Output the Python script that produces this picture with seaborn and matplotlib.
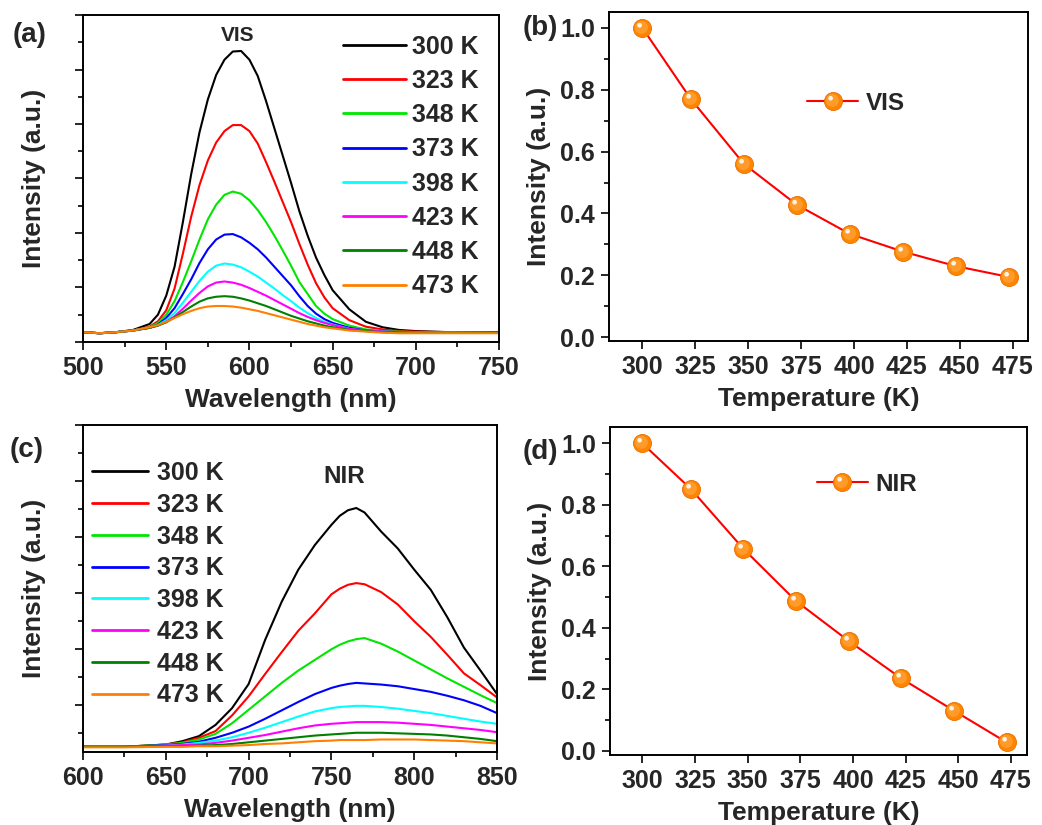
import numpy as np
import pandas as pd
import seaborn as sns
import matplotlib.pyplot as plt
from matplotlib.path import Path
from matplotlib.lines import Line2D
from matplotlib.ticker import MultipleLocator
from matplotlib.legend_handler import HandlerTuple

sns.set_theme(style="ticks")
plt.rcParams['font.family'] = ['Liberation Sans', 'DejaVu Sans']
plt.rcParams['font.weight'] = 'bold'
plt.rcParams['axes.labelweight'] = 'bold'
plt.rcParams['axes.linewidth'] = 1.4
plt.rcParams['axes.edgecolor'] = 'black'

temps = [300, 323, 348, 373, 398, 423, 448, 473]
temp_labels = [f"{t} K" for t in temps]
colors = ['#000000', '#FF0000', '#00E600', '#0000FF', '#00FFFF', '#FF00FF', '#008000', '#FF8000']

# (a) VIS emission spectra (arbitrary units)
vis_wl = [500, 510, 520, 530, 540, 545, 550, 555, 560, 565, 570, 575, 580, 585, 590, 595, 600,
          605, 610, 615, 620, 625, 630, 635, 640, 645, 650, 660, 670, 680, 690, 700, 720, 750]
vis_300 = [0.18, 0.16, 0.18, 0.22, 0.33, 0.50, 0.85, 1.38, 2.20, 3.08, 3.85, 4.45, 4.90, 5.18, 5.33, 5.34, 5.18,
           4.88, 4.42, 3.92, 3.42, 2.92, 2.40, 1.95, 1.55, 1.23, 0.95, 0.60, 0.37, 0.27, 0.22, 0.20, 0.18, 0.18]
vis_323 = [0.18, 0.16, 0.18, 0.21, 0.28, 0.38, 0.58, 0.98, 1.62, 2.30, 2.88, 3.33, 3.66, 3.87, 3.98, 3.98, 3.87,
           3.64, 3.30, 2.94, 2.57, 2.20, 1.80, 1.42, 1.08, 0.82, 0.62, 0.40, 0.28, 0.23, 0.20, 0.19, 0.18, 0.18]
vis_348 = [0.18, 0.16, 0.18, 0.21, 0.27, 0.35, 0.50, 0.75, 1.10, 1.48, 1.88, 2.25, 2.52, 2.70, 2.76, 2.72, 2.60,
           2.42, 2.20, 1.95, 1.68, 1.40, 1.10, 0.88, 0.66, 0.52, 0.42, 0.30, 0.23, 0.20, 0.19, 0.18, 0.18, 0.18]
vis_373 = [0.18, 0.16, 0.18, 0.21, 0.26, 0.32, 0.44, 0.62, 0.88, 1.15, 1.45, 1.70, 1.88, 1.97, 1.98, 1.92, 1.82,
           1.70, 1.55, 1.38, 1.21, 1.04, 0.84, 0.66, 0.52, 0.42, 0.35, 0.26, 0.21, 0.19, 0.18, 0.18, 0.18, 0.18]
vis_398 = [0.18, 0.16, 0.18, 0.21, 0.26, 0.31, 0.40, 0.53, 0.72, 0.92, 1.12, 1.29, 1.40, 1.44, 1.42, 1.37, 1.29,
           1.20, 1.09, 0.98, 0.86, 0.75, 0.63, 0.53, 0.44, 0.37, 0.32, 0.24, 0.20, 0.19, 0.18, 0.18, 0.18, 0.17]
vis_423 = [0.18, 0.16, 0.18, 0.21, 0.26, 0.30, 0.37, 0.47, 0.61, 0.76, 0.90, 1.02, 1.09, 1.11, 1.09, 1.05, 0.99,
           0.92, 0.85, 0.77, 0.69, 0.61, 0.53, 0.46, 0.40, 0.35, 0.31, 0.24, 0.21, 0.19, 0.18, 0.17, 0.17, 0.17]
vis_448 = [0.18, 0.16, 0.18, 0.21, 0.26, 0.30, 0.36, 0.45, 0.55, 0.65, 0.74, 0.80, 0.83, 0.84, 0.83, 0.80, 0.76,
           0.71, 0.66, 0.60, 0.54, 0.48, 0.43, 0.38, 0.34, 0.30, 0.27, 0.22, 0.20, 0.18, 0.17, 0.17, 0.17, 0.17]
vis_473 = [0.18, 0.16, 0.18, 0.21, 0.27, 0.31, 0.37, 0.44, 0.51, 0.57, 0.62, 0.65, 0.66, 0.66, 0.65, 0.63, 0.60,
           0.57, 0.53, 0.49, 0.45, 0.41, 0.37, 0.33, 0.30, 0.27, 0.25, 0.21, 0.19, 0.17, 0.16, 0.16, 0.16, 0.16]

# (c) NIR emission spectra
nir_wl = [600, 625, 650, 660, 670, 680, 690, 700, 710, 720, 730, 740, 750, 755, 760, 765, 770,
          780, 790, 800, 810, 820, 830, 840, 850]
nir_300 = [-0.74, -0.74, -0.70, -0.64, -0.55, -0.35, -0.05, 0.38, 1.17, 1.85, 2.42, 2.86, 3.22, 3.38, 3.48, 3.52,
           3.44, 3.10, 2.80, 2.42, 2.06, 1.57, 1.03, 0.62, 0.20]
nir_323 = [-0.74, -0.74, -0.70, -0.66, -0.58, -0.46, -0.18, 0.16, 0.56, 0.95, 1.33, 1.64, 1.98, 2.08, 2.15, 2.18,
           2.16, 2.02, 1.80, 1.50, 1.22, 0.90, 0.57, 0.36, 0.14]
nir_348 = [-0.74, -0.74, -0.70, -0.67, -0.61, -0.51, -0.32, -0.08, 0.16, 0.40, 0.62, 0.81, 1.00, 1.08, 1.14, 1.18,
           1.20, 1.10, 0.96, 0.80, 0.64, 0.48, 0.33, 0.18, 0.04]
nir_373 = [-0.74, -0.74, -0.71, -0.69, -0.65, -0.58, -0.49, -0.38, -0.24, -0.09, 0.06, 0.20, 0.31, 0.35, 0.38, 0.40,
           0.39, 0.37, 0.34, 0.29, 0.24, 0.17, 0.09, -0.01, -0.14]
nir_398 = [-0.74, -0.74, -0.72, -0.70, -0.67, -0.63, -0.57, -0.49, -0.40, -0.30, -0.20, -0.11, -0.05, -0.03, -0.02,
           -0.01, -0.01, -0.03, -0.06, -0.10, -0.14, -0.19, -0.24, -0.29, -0.33]
nir_423 = [-0.74, -0.74, -0.72, -0.71, -0.70, -0.67, -0.63, -0.58, -0.53, -0.47, -0.41, -0.36, -0.33, -0.32, -0.31,
           -0.30, -0.30, -0.30, -0.31, -0.33, -0.35, -0.38, -0.41, -0.44, -0.48]
nir_448 = [-0.74, -0.74, -0.73, -0.73, -0.72, -0.71, -0.69, -0.66, -0.63, -0.60, -0.57, -0.54, -0.52, -0.51, -0.50,
           -0.49, -0.49, -0.49, -0.50, -0.51, -0.52, -0.54, -0.57, -0.60, -0.64]
nir_473 = [-0.75, -0.75, -0.74, -0.74, -0.73, -0.73, -0.72, -0.71, -0.69, -0.68, -0.66, -0.64, -0.63, -0.62, -0.62,
           -0.62, -0.62, -0.61, -0.61, -0.61, -0.62, -0.63, -0.64, -0.66, -0.68]

# (b), (d) normalised integrated intensity
vis_norm = [1.0, 0.769, 0.560, 0.428, 0.334, 0.277, 0.230, 0.195]
nir_norm = [1.0, 0.852, 0.657, 0.487, 0.357, 0.235, 0.130, 0.027]

vis_series = [vis_300, vis_323, vis_348, vis_373, vis_398, vis_423, vis_448, vis_473]
nir_series = [nir_300, nir_323, nir_348, nir_373, nir_398, nir_423, nir_448, nir_473]


def long_df(wl, series):
    frames = [pd.DataFrame({'wl': wl, 'I': s, 'T': lab}) for s, lab in zip(series, temp_labels)]
    return pd.concat(frames, ignore_index=True)


def ball_path(cx, cy, r):
    # circle offset inside a unit box so it lines up with the 'o' marker
    c = Path.circle((cx, cy), r)
    verts = np.vstack([[[-1, -1], [1, 1]], c.vertices])
    codes = np.concatenate([[Path.MOVETO, Path.MOVETO], c.codes])
    return Path(verts, codes)


mid_mk = ball_path(-0.12, 0.12, 0.72)
hi_mk = ball_path(-0.32, 0.36, 0.26)
ms = 13


def ball_handles(lw=1.5):
    h1 = Line2D([], [], color='#FF0000', lw=lw, marker='o', ms=ms, mfc='#FF8400', mec='#E87000', mew=0.6)
    h2 = Line2D([], [], ls='none', marker=mid_mk, ms=ms, mfc='#FF9B2A', mec='none')
    h3 = Line2D([], [], ls='none', marker=hi_mk, ms=ms, mfc='#FFF2E2', mec='none')
    return (h1, h2, h3)


def style_axis(ax):
    ax.tick_params(which='both', direction='out', top=False, right=False, labelsize=18, width=1.4, pad=4)
    ax.tick_params(which='major', length=6)
    ax.tick_params(which='minor', length=3.5)
    for sp in ax.spines.values():
        sp.set_linewidth(1.4)
        sp.set_color('black')


fig = plt.figure(figsize=(10.42, 8.25), dpi=100)
ax_a = fig.add_axes([0.0797, 0.5855, 0.3992, 0.3963])
ax_b = fig.add_axes([0.5845, 0.5867, 0.4021, 0.3988])
ax_c = fig.add_axes([0.0797, 0.0885, 0.3973, 0.3963])
ax_d = fig.add_axes([0.5854, 0.0848, 0.4002, 0.3976])

# spectra panels
for ax, wl, series, xlim, ylim, tag, tagpos, leg_anchor, leg_hl, leg_sp, leg_tp in [
    (ax_a, vis_wl, vis_series, (500, 750), (0, 6), 'VIS', (593, 5.62), (0.625, 0.94), 2.5, 0.41, 0.25),
    (ax_c, nir_wl, nir_series, (600, 850), (-0.833, 5.0), 'NIR', (757.6, 4.09), (0.022, 0.89), 2.25, 0.31, 0.36),
]:
    df = long_df(wl, series)
    sns.lineplot(data=df, x='wl', y='I', hue='T', hue_order=temp_labels, palette=colors,
                 estimator=None, sort=False, linewidth=1.5, ax=ax)
    ax.set_xlim(*xlim)
    ax.set_ylim(*ylim)
    ax.xaxis.set_major_locator(MultipleLocator(50))
    ax.xaxis.set_minor_locator(MultipleLocator(25))
    ax.yaxis.set_major_locator(MultipleLocator(1))
    ax.yaxis.set_minor_locator(MultipleLocator(0.5))
    style_axis(ax)
    ax.tick_params(axis='y', labelleft=False)
    ax.set_xlabel('Wavelength (nm)', fontsize=19, labelpad=6)
    ax.set_ylabel('Intensity (a.u.)', fontsize=19, labelpad=19.5)
    ax.text(tagpos[0], tagpos[1], tag, ha='center', va='center', fontsize=15 if tag == 'VIS' else 17.5,
            fontweight='bold')
    handles, labels = ax.get_legend_handles_labels()
    for h in handles:
        h.set_linewidth(2)
    ax.legend(handles, labels, loc='upper left', bbox_to_anchor=leg_anchor, frameon=False, fontsize=18,
              borderaxespad=0, borderpad=0, handlelength=leg_hl, handletextpad=leg_tp, labelspacing=leg_sp)

# normalised intensity panels
for ax, vals, ylim, xlim, name, anchor in [
    (ax_b, vis_norm, (-0.012, 1.051), (284.3, 482.2), 'VIS', (0.4726, 0.723)),
    (ax_d, nir_norm, (-0.014, 1.053), (284.7, 482.6), 'NIR', (0.496, 0.826)),
]:
    sns.lineplot(x=temps, y=vals, color='#FF0000', linewidth=1.5, ax=ax, legend=False)
    ax.plot(temps, vals, ls='none', marker='o', ms=ms, mfc='#FF8400', mec='#E87000', mew=0.6, zorder=3)
    ax.plot(temps, vals, ls='none', marker=mid_mk, ms=ms, mfc='#FF9B2A', mec='none', zorder=4)
    ax.plot(temps, vals, ls='none', marker=hi_mk, ms=ms, mfc='#FFF2E2', mec='none', zorder=5)
    ax.set_xlim(*xlim)
    ax.set_ylim(*ylim)
    ax.xaxis.set_major_locator(MultipleLocator(25))
    ax.yaxis.set_major_locator(MultipleLocator(0.2))
    ax.yaxis.set_minor_locator(MultipleLocator(0.1))
    ax.yaxis.set_major_formatter(lambda v, p: f"{v:.1f}")
    style_axis(ax)
    ax.set_xlabel('Temperature (K)', fontsize=19, labelpad=6)
    ax.set_ylabel('Intensity (a.u.)', fontsize=19, labelpad=7)
    ax.legend([ball_handles()], [name], handler_map={tuple: HandlerTuple(ndivide=1, pad=0.0)},
              loc='center left', bbox_to_anchor=anchor, frameon=False, fontsize=17.5,
              borderaxespad=0, borderpad=0, handlelength=2.1, handletextpad=0.3, numpoints=1)

for lab, x, y in [('(a)', 0.0125, 0.9576), ('(b)', 0.502, 0.966), ('(c)', 0.0096, 0.4545), ('(d)', 0.502, 0.4525)]:
    fig.text(x, y, lab, fontsize=20, fontweight='bold', ha='left', va='center')

fig.savefig('out.png', dpi=100, facecolor='white')
